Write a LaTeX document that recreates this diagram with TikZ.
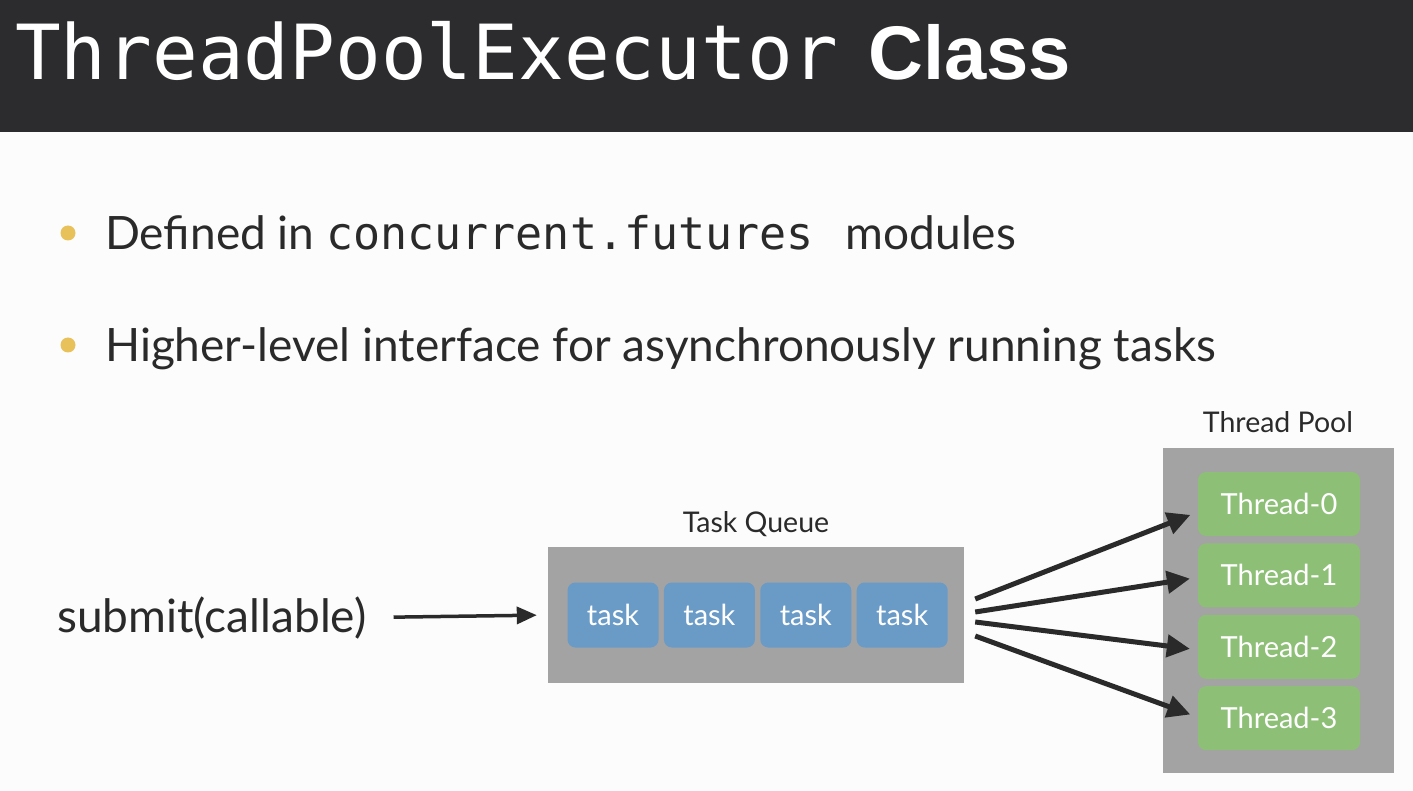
\documentclass[tikz,border=0pt]{standalone}
\usepackage{fontspec}
\setmainfont{Lato}
\setmonofont{DejaVu Sans Mono}
\newfontfamily\headsans{Liberation Sans}
\usetikzlibrary{arrows.meta,calc,positioning}

\definecolor{titlebar}{HTML}{2C2B2E}
\definecolor{slidebg}{HTML}{FCFCFC}
\definecolor{boxgrey}{HTML}{A3A3A3}
\definecolor{taskblue}{HTML}{6A9BC7}
\definecolor{threadgreen}{HTML}{8DBF76}
\definecolor{bulletyellow}{HTML}{E8C15A}
\definecolor{textdark}{HTML}{2A2A2A}

\begin{document}
\begin{tikzpicture}[x=1pt,y=-1pt,
    dot/.style={circle,fill=bulletyellow,inner sep=0pt,minimum size=15pt},
    bullettext/.style={anchor=base west,inner sep=0pt,text=textdark,font=\fontsize{46}{56}\selectfont},
    grouplabel/.style={inner sep=0pt,text=textdark,font=\fontsize{28.5}{32}\selectfont},
    taskbox/.style={rounded corners=8pt,fill=taskblue,text=white,minimum width=91pt,minimum height=65pt,inner sep=0pt,font=\fontsize{29}{34}\selectfont},
    threadbox/.style={rounded corners=8pt,fill=threadgreen,text=white,minimum width=162pt,minimum height=64pt,inner sep=0pt,font=\fontsize{29}{34}\selectfont},
    link/.style={line width=5pt,draw=textdark,-{Triangle[length=23pt,width=22pt]},shorten >=8pt}]

    % Background and title bar
    \fill[slidebg] (0,0) rectangle (1413,791);
    \fill[titlebar] (0,0) rectangle (1413,132);
    \node[anchor=base west,inner sep=0pt,text=white,font=\ttfamily\fontsize{76}{80}\selectfont] (title) at (15,80) {ThreadPoolExecutor};
    \node[anchor=base west,inner sep=0pt,text=white,font=\headsans\bfseries\fontsize{76}{80}\selectfont] (titleclass) at (868,80) {Class};

    % Bullet points
    \node[dot] (dot1) at (68,233) {};
    \node[bullettext] (item1) at (105,250) {Defined in \texttt{\fontsize{45}{56}\selectfont concurrent.futures}\hspace{20pt} modules};
    \node[dot] (dot2) at (68,345) {};
    \node[bullettext] (item2) at (105,362) {Higher-level interface for asynchronously running tasks};

    % Task queue
    \node[fill=boxgrey,minimum width=416pt,minimum height=136pt,inner sep=0pt] (queue) at (756,615) {};
    \node[grouplabel,above=10pt of queue] (queuelabel) {Task Queue};
    \node[taskbox] (task1) at (613,615) {task};
    \foreach \i [count=\j from 1] in {2,3,4}
        \node[taskbox,right=5pt of task\j] (task\i) {task};

    % Submit
    \node[bullettext,anchor=base west] (submit) at (57,632) {submit(callable)};
    \draw[line width=3.5pt,draw=textdark,-{Triangle[length=20pt,width=17pt]},shorten <=27pt,shorten >=11pt] (submit.east) -- (queue.west);

    % Thread pool
    \node[fill=boxgrey,minimum width=231pt,minimum height=325pt,inner sep=0pt] (pool) at (1278,610) {};
    \node[grouplabel,above=14pt of pool] (poollabel) {Thread Pool};
    \node[threadbox] (thread0) at (1279,504) {Thread-0};
    \foreach \i [count=\j from 0] in {1,2,3}
        \node[threadbox,below=7pt of thread\j] (thread\i) {Thread-\i};

    % Arrows from the queue to the threads
    \foreach \i/\sy/\ey in {0/-16/8,1/-3/2,2/7/3,3/21/-1} {
        \coordinate (q\i) at ($(queue.east)+(11,\sy)$);
        \draw[link] (q\i) -- ($(thread\i.west)+(0,\ey)$);
    }
\end{tikzpicture}
\end{document}
